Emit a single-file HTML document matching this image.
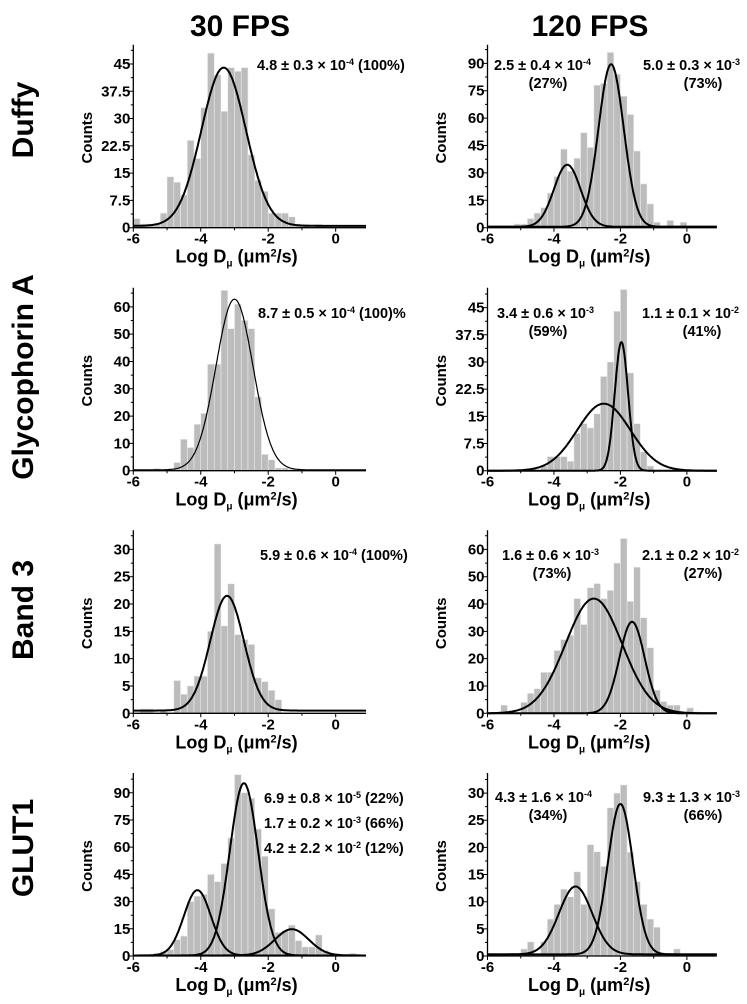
<!DOCTYPE html>
<html><head><meta charset="utf-8"><style>
html,body{margin:0;padding:0;background:#fff;}
svg{display:block;font-family:"Liberation Sans",Arial,sans-serif;font-weight:bold;}
</style></head><body>
<svg id="fig" width="747" height="1004" viewBox="0 0 747 1004">
<text x="240" y="36" font-size="30" text-anchor="middle">30 FPS</text>
<text x="590" y="36" font-size="30" text-anchor="middle">120 FPS</text>
<text transform="translate(33,120) rotate(-90)" font-size="30" text-anchor="middle">Duffy</text>
<text transform="translate(33,377) rotate(-90)" font-size="30" text-anchor="middle">Glycophorin A</text>
<text transform="translate(33,610) rotate(-90)" font-size="30" text-anchor="middle">Band 3</text>
<text transform="translate(33,848) rotate(-90)" font-size="30" text-anchor="middle">GLUT1</text>
</svg>
<script>
// ---- data ----
const binWidth = 0.2;
const duffy30Start = -6;
const duffy30Counts = [2.5,1,1,1.2,4,14,12.5,9,24,19,33,48,42,32,44,43,44,20,13,10,4,4,4,3,1,1,0,1];
const duffy30Fit = [[43.5,-3.32,0.66]];
const duffy30Ticks = [0,7.5,15,22.5,30,37.5,45];

const duffy120Start = -6;
const duffy120Counts = [1,1,1,1,2,2,5,8,11,19,28,43,31,38,52,44,78,79,96,84,72,62,42,24,13,3,0,4,0,3];
const duffy120Fit = [[34,-3.6,0.4],[89,-2.28,0.38]];
const duffy120Ticks = [0,15,30,45,60,75,90];

const glyco30Start = -6;
const glyco30Counts = [0,0,0,0.8,0,0,3,11.5,8.5,17,21,39,39,66,52,61,55,52,27,6,4,1,1,0.5,0,0,0.5];
const glyco30Fit = [[62.5,-3.0,0.55]];
const glyco30Ticks = [0,10,20,30,40,50,60];

const glyco120Start = -4.4;
const glyco120Counts = [1.3,3.9,3.9,3.9,2.6,10.3,13,11.8,15.7,26,30,44,50,27,13,5.2,1.3];
const glyco120Fit = [[18.5,-2.5,0.8],[35.5,-1.97,0.2]];
const glyco120Ticks = [0,7.5,15,22.5,30,37.5,45];

const band30Start = -6;
const band30Counts = [0,0.8,0.8,0,0.5,0,6,3.5,5,6.8,6.8,15,31,16,23.7,14.4,13.5,12.6,6.5,5.8,4.2,2.5];
const band30Fit = [[21,-3.22,0.5]];
const band30Ticks = [0,5,10,15,20,25,30];

const band120Start = -6;
const band120Counts = [0,0,3,1,0,4,7.3,9,15,15,23,27,28.5,42,32.5,46,47.5,42,45,55,64,41,53.5,35,24,8.5,4.3,3,3,0,2,0.5];
const band120Fit = [[42,-2.8,0.85],[33.5,-1.65,0.38]];
const band120Ticks = [0,10,20,30,40,50,60];

const glut30Start = -5.4;
const glut30Counts = [1.5,2.5,3.5,9,11,30,33,34,45,41,51,65,100,90,87,70,55,26,13,14,17,8.5,5,5,11.6,3,0,0,0,1.5];
const glut30Fit = [[36,-4.1,0.4],[95,-2.72,0.42],[14.5,-1.3,0.5]];
const glut30Ticks = [0,15,30,45,60,75,90];

const glut120Start = -5.0;
const glut120Counts = [1.3,2.6,0,2.6,6.8,9.5,12.3,10.9,15.5,9.5,20.5,19.2,16.5,27.3,30,31.5,19.1,13.7,9.5,6.8,5.3,0,0,1.3];
const glut120Fit = [[12.5,-3.35,0.5],[27.7,-2.0,0.38]];
const glut120Ticks = [0,5,10,15,20,25,30];

const xTicks = [-6,-4,-2,0];

// ---- drawing ----
const NS = "http://www.w3.org/2000/svg";
const svg = document.getElementById('fig');
function mk(tag, parent){ const e = document.createElementNS(NS, tag); parent.appendChild(e); return e; }

function panel(name, col, row, start, counts, fit, ticks, ymax, base, thin, notes){
  const x0 = col === 0 ? 133.3 : 487.5;
  const ppu = col === 0 ? 33.73 : 33.23;
  const yb = [227.7,470.7,713.3,956][row];
  const H = 183;
  const xmin = -6, xmax = 0.9;
  const X = v => x0 + (v - xmin) * ppu;
  const Y = c => yb - c / ymax * H;
  const g = mk('g', svg);
  
  
  counts.forEach((c, i) => {
    if (c <= 0) return;
    const r = mk('rect', g);
    
    
    const a = start + i * binWidth;
    r.setAttribute('x', X(a));
    r.setAttribute('width', binWidth * ppu);
    r.setAttribute('y', Y(c));
    r.setAttribute('height', yb - Y(c));
    r.setAttribute('fill', '#bcbcbc');
    r.setAttribute('stroke', '#ececec');
    r.setAttribute('stroke-width', '0.6');
  });
  fit.forEach((p, k) => {
    let d = '';
    for (let v = xmin; v <= xmax + 1e-9; v += 0.02) {
      const c = base + p[0] * Math.exp(-0.5 * Math.pow((v - p[1]) / p[2], 2));
      d += (d ? 'L' : 'M') + X(v).toFixed(1) + ',' + Y(c).toFixed(1);
    }
    const pa = mk('path', g);
    
    
    pa.setAttribute('d', d);
    pa.setAttribute('fill', 'none');
    pa.setAttribute('stroke', '#000');
    pa.setAttribute('stroke-width', thin ? 1.2 : 2);
  });
  const ax = mk('path', g);
  
  
  ax.setAttribute('d', 'M' + x0 + ',' + (yb - H) + 'L' + x0 + ',' + yb + 'L' + X(xmax) + ',' + yb);
  ax.setAttribute('fill', 'none');
  ax.setAttribute('stroke', '#000');
  ax.setAttribute('stroke-width', '1.3');
  let td = '';
  const step = ticks[1] - ticks[0];
  for (let t = 0; t <= ymax; t += step / 2) {
    const major = Math.abs((t / step) - Math.round(t / step)) < 1e-6;
    td += 'M' + (x0 - (major ? 4 : 2.5)) + ',' + Y(t) + 'H' + x0;
  }
  for (let v = -6; v <= xmax; v += 1) {
    td += 'M' + X(v) + ',' + yb + 'V' + (yb + (v % 2 === 0 ? 4 : 2.5));
  }
  const tk = mk('path', g);
  
  
  tk.setAttribute('d', td);
  tk.setAttribute('stroke', '#000');
  tk.setAttribute('stroke-width', '1');
  ticks.forEach(t => {
    const tx = mk('text', g);
    
    
    tx.setAttribute('x', x0 - 3);
    tx.setAttribute('y', Y(t) + 5);
    tx.setAttribute('font-size', '15');
    tx.setAttribute('text-anchor', 'end');
    tx.textContent = t;
  });
  xTicks.forEach(t => {
    const tx = mk('text', g);
    
    
    tx.setAttribute('x', X(t));
    tx.setAttribute('y', yb + 16);
    tx.setAttribute('font-size', '15');
    tx.setAttribute('text-anchor', 'middle');
    tx.textContent = t;
  });
  const xl = mk('text', g);
  
  
  xl.setAttribute('x', X(-3) + 2);
  xl.setAttribute('y', yb + 35);
  xl.setAttribute('font-size', '18');
  xl.setAttribute('text-anchor', 'middle');
  xl.innerHTML = 'Log D<tspan font-size="10" dy="4">\u03bc</tspan><tspan dy="-4"> (\u03bcm</tspan><tspan font-size="11" dy="-6">2</tspan><tspan dy="6">/s)</tspan>';
  const yl = mk('text', g);
  
  
  const lx = col === 0 ? 92 : 446;
  yl.setAttribute('transform', 'translate(' + lx + ',' + (yb - 90) + ') rotate(-90)');
  yl.setAttribute('font-size', '15');
  yl.setAttribute('text-anchor', 'middle');
  yl.textContent = 'Counts';
  notes.forEach(n => {
    const t = mk('text', g);
    
    
    t.setAttribute('x', n[0]);
    t.setAttribute('y', n[1]);
    t.setAttribute('font-size', '14.5');
    if (n[3]) t.setAttribute('text-anchor', 'middle');
    t.innerHTML = n[2];
  });
}
function sup(m, e, rest){ return m + ' \u00d7 10<tspan font-size="9" dy="-5">' + e + '</tspan><tspan dy="5">' + (rest || '') + '</tspan>'; }

panel('duffy-30fps', 0, 0, duffy30Start, duffy30Counts, duffy30Fit, duffy30Ticks, 50.3, 0.5, false,
  [[257, 70, sup('4.8 \u00b1 0.3', '-4', ' (100%)')]]);
panel('duffy-120fps', 1, 0, duffy120Start, duffy120Counts, duffy120Fit, duffy120Ticks, 100.2, 0.5, false,
  [[494, 70, sup('2.5 \u00b1 0.4', '-4')], [548, 88, '(27%)', 1], [643, 70, sup('5.0 \u00b1 0.3', '-3')], [703, 88, '(73%)', 1]]);
panel('glycophorin-30fps', 0, 1, glyco30Start, glyco30Counts, glyco30Fit, glyco30Ticks, 67, 0.3, true,
  [[258, 318, sup('8.7 \u00b1 0.5', '-4', ' (100)%')]]);
panel('glycophorin-120fps', 1, 1, glyco120Start, glyco120Counts, glyco120Fit, glyco120Ticks, 50.5, 0, false,
  [[497, 318, sup('3.4 \u00b1 0.6', '-3')], [548, 336, '(59%)', 1], [642, 318, sup('1.1 \u00b1 0.1', '-2')], [702, 336, '(41%)', 1]]);
panel('band3-30fps', 0, 2, band30Start, band30Counts, band30Fit, band30Ticks, 33.5, 0.5, false,
  [[260, 560, sup('5.9 \u00b1 0.6', '-4', ' (100%)')]]);
panel('band3-120fps', 1, 2, band120Start, band120Counts, band120Fit, band120Ticks, 67, 0, false,
  [[502, 560, sup('1.6 \u00b1 0.6', '-3')], [552, 578, '(73%)', 1], [642, 560, sup('2.1 \u00b1 0.2', '-2')], [703, 578, '(27%)', 1]]);
panel('glut1-30fps', 0, 3, glut30Start, glut30Counts, glut30Fit, glut30Ticks, 100.9, 0.3, false,
  [[264, 803, sup('6.9 \u00b1 0.8', '-5', ' (22%)')], [264, 828, sup('1.7 \u00b1 0.2', '-3', ' (66%)')], [264, 853, sup('4.2 \u00b1 2.2', '-2', ' (12%)')]]);
panel('glut1-120fps', 1, 3, glut120Start, glut120Counts, glut120Fit, glut120Ticks, 33.7, 0.3, false,
  [[495, 802, sup('4.3 \u00b1 1.6', '-4')], [548, 820, '(34%)', 1], [643, 802, sup('9.3 \u00b1 1.3', '-3')], [703, 820, '(66%)', 1]]);
</script>
</body></html>
